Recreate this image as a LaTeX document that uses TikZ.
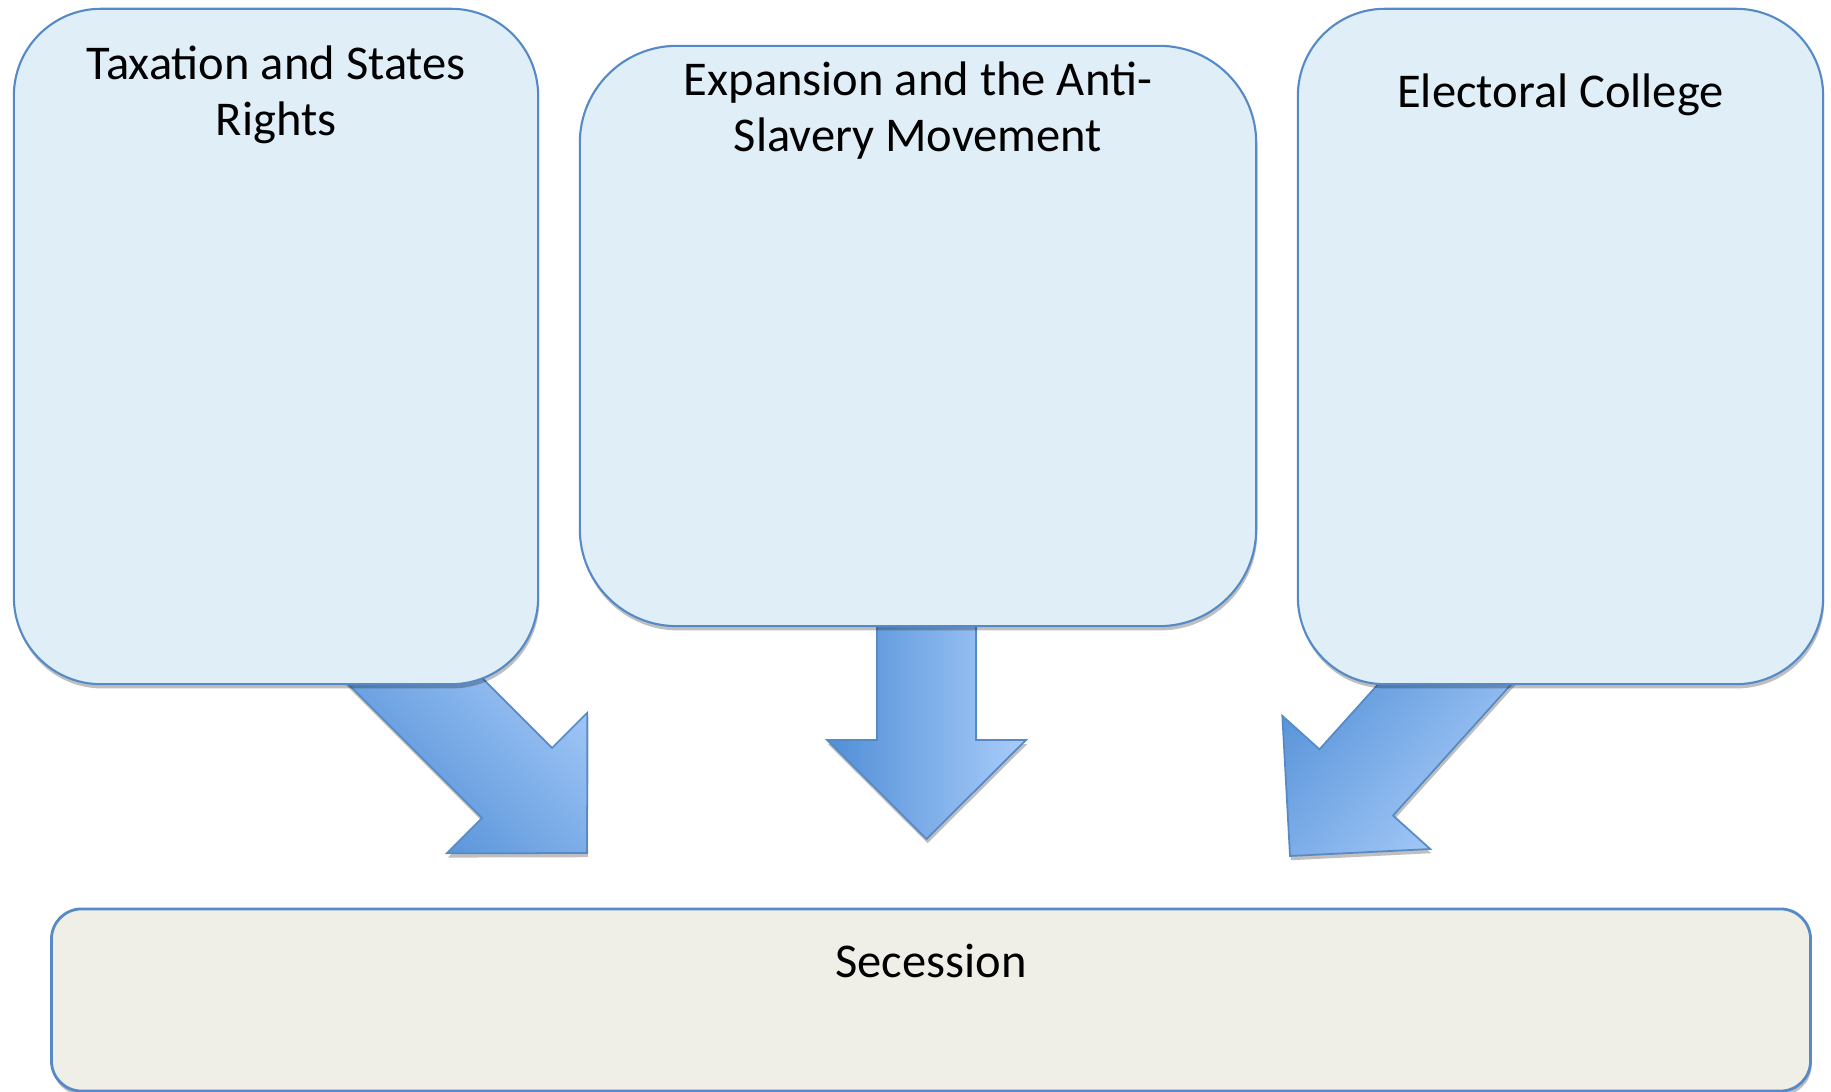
\documentclass[tikz,border=0pt]{standalone}
\usepackage{fontspec}
\setmainfont{Carlito}
\usetikzlibrary{positioning, shadows}

\definecolor{boxblue}{RGB}{224,239,247}
\definecolor{boxline}{RGB}{86,138,198}
\definecolor{resultfill}{RGB}{239,239,232}
\definecolor{arrowdark}{RGB}{80,142,214}
\definecolor{arrowlight}{RGB}{170,205,250}

\begin{document}
\begin{tikzpicture}[x=0.01cm, y=-0.01cm, font=\fontsize{13.8}{16}\selectfont]
       \tikzstyle{shadowed} = [drop shadow={shadow xshift=0.3pt, shadow yshift=-1.2pt, opacity=0.25, fill=black}]
       \tikzstyle{topicbox} = [rectangle, draw=boxline, line width=0.6pt, fill=boxblue, shadowed]
       \tikzstyle{resultbox} = [rectangle, draw=boxline, line width=0.8pt, fill=resultfill, rounded corners=0.3cm, shadowed]
       \tikzstyle{boxlabel} = [align=center, inner sep=0pt, text=black]
       \tikzstyle{fatarrow} = [draw=boxline, line width=0.5pt, top color=arrowlight, bottom color=arrowdark, shadowed]
       \useasboundingbox (0,0) rectangle (1831,1092);

       % block arrows, drawn first so the boxes cover their tails
       \coordinate (tip-A) at (587,853);
       \coordinate (tip-B) at (926.5,839);
       \coordinate (tip-C) at (1290,856);
       \foreach \t/\r/\l/\s in {A/45/319/-45, B/0/239/-90, C/-42/300/-132}
       {
         \draw[fatarrow, shading angle=\s, shift={(tip-\t)}, rotate=\r]
           (0,0) -- (-99.5,-99) -- (-49.5,-99) -- (-49.5,-\l) -- (49.5,-\l) -- (49.5,-99) -- (99.5,-99) -- cycle;
       }

       % the three causes
       \node[topicbox, rounded corners=0.87cm, minimum width=5.24cm, minimum height=6.75cm] (taxation) at (276,346.5) {};
       \node[topicbox, rounded corners=0.97cm, minimum width=6.76cm, minimum height=5.80cm] (expansion) at (918,336) {};
       \node[topicbox, rounded corners=0.87cm, minimum width=5.25cm, minimum height=6.75cm] (electoral) at (1560.5,346.5) {};
       \node[boxlabel, below=0.37cm of taxation.north] (taxation-text) {Taxation and States\\Rights};
       \node[boxlabel, below=0.16cm of expansion.north] (expansion-text) {Expansion and the Anti-\\Slavery Movement};
       \node[boxlabel, below=0.65cm of electoral.north] (electoral-text) {Electoral College};

       % the result
       \node[resultbox, minimum width=17.58cm, minimum height=1.82cm] (secession) at (931,1000) {};
       \node[boxlabel, below=0.36cm of secession.north] (secession-text) {Secession};
\end{tikzpicture}
\end{document}
